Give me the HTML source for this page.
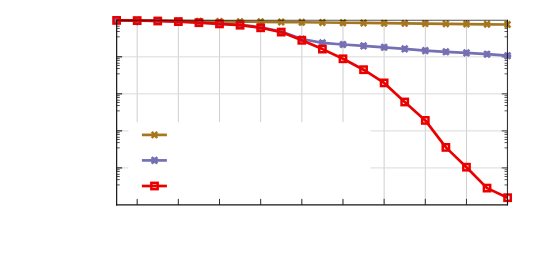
<!DOCTYPE html>
<html><head><meta charset="utf-8"><title>chart</title>
<style>html,body{margin:0;padding:0;background:#fff;font-family:"Liberation Sans",sans-serif;}body{width:545px;height:273px;overflow:hidden;}</style></head>
<body>
<svg width="545" height="273" viewBox="0 0 545 273" style="display:block">
<rect x="0" y="0" width="545" height="273" fill="#ffffff"/>
<line x1="137.18" y1="20.25" x2="137.18" y2="204.85" stroke="#cfcfcf" stroke-width="1"/>
<line x1="178.34" y1="20.25" x2="178.34" y2="204.85" stroke="#cfcfcf" stroke-width="1"/>
<line x1="219.50" y1="20.25" x2="219.50" y2="204.85" stroke="#cfcfcf" stroke-width="1"/>
<line x1="260.66" y1="20.25" x2="260.66" y2="204.85" stroke="#cfcfcf" stroke-width="1"/>
<line x1="301.82" y1="20.25" x2="301.82" y2="204.85" stroke="#cfcfcf" stroke-width="1"/>
<line x1="342.98" y1="20.25" x2="342.98" y2="204.85" stroke="#cfcfcf" stroke-width="1"/>
<line x1="384.14" y1="20.25" x2="384.14" y2="204.85" stroke="#cfcfcf" stroke-width="1"/>
<line x1="425.30" y1="20.25" x2="425.30" y2="204.85" stroke="#cfcfcf" stroke-width="1"/>
<line x1="466.46" y1="20.25" x2="466.46" y2="204.85" stroke="#cfcfcf" stroke-width="1"/>
<line x1="507.62" y1="20.25" x2="507.62" y2="204.85" stroke="#cfcfcf" stroke-width="1"/>
<line x1="116.65" y1="56.83" x2="507.42" y2="56.83" stroke="#dadada" stroke-width="1"/>
<line x1="116.65" y1="93.86" x2="507.42" y2="93.86" stroke="#dadada" stroke-width="1"/>
<line x1="116.65" y1="130.89" x2="507.42" y2="130.89" stroke="#dadada" stroke-width="1"/>
<line x1="116.65" y1="167.92" x2="507.42" y2="167.92" stroke="#dadada" stroke-width="1"/>
<rect x="128.5" y="122.2" width="242" height="77.6" fill="#ffffff"/>
<line x1="116.65" y1="21.60" x2="119.75" y2="21.60" stroke="#333" stroke-width="0.85"/>
<line x1="507.42" y1="21.60" x2="504.52000000000004" y2="21.60" stroke="#333" stroke-width="0.8"/>
<line x1="116.65" y1="23.40" x2="119.75" y2="23.40" stroke="#333" stroke-width="0.85"/>
<line x1="507.42" y1="23.40" x2="504.52000000000004" y2="23.40" stroke="#333" stroke-width="0.8"/>
<line x1="116.65" y1="26.20" x2="119.75" y2="26.20" stroke="#333" stroke-width="0.85"/>
<line x1="507.42" y1="26.20" x2="504.52000000000004" y2="26.20" stroke="#333" stroke-width="0.8"/>
<line x1="116.65" y1="28.40" x2="119.75" y2="28.40" stroke="#333" stroke-width="0.85"/>
<line x1="507.42" y1="28.40" x2="504.52000000000004" y2="28.40" stroke="#333" stroke-width="0.8"/>
<line x1="116.65" y1="31.50" x2="119.75" y2="31.50" stroke="#333" stroke-width="0.85"/>
<line x1="507.42" y1="31.50" x2="504.52000000000004" y2="31.50" stroke="#333" stroke-width="0.8"/>
<line x1="116.65" y1="36.80" x2="119.75" y2="36.80" stroke="#333" stroke-width="0.85"/>
<line x1="507.42" y1="36.80" x2="504.52000000000004" y2="36.80" stroke="#333" stroke-width="0.8"/>
<line x1="116.65" y1="56.83" x2="122.15" y2="56.83" stroke="#000" stroke-width="1"/>
<line x1="507.42" y1="56.83" x2="501.72" y2="56.83" stroke="#222" stroke-width="0.9"/>
<line x1="116.65" y1="58.63" x2="119.75" y2="58.63" stroke="#333" stroke-width="0.85"/>
<line x1="507.42" y1="58.63" x2="504.52000000000004" y2="58.63" stroke="#333" stroke-width="0.8"/>
<line x1="116.65" y1="60.43" x2="119.75" y2="60.43" stroke="#333" stroke-width="0.85"/>
<line x1="507.42" y1="60.43" x2="504.52000000000004" y2="60.43" stroke="#333" stroke-width="0.8"/>
<line x1="116.65" y1="63.23" x2="119.75" y2="63.23" stroke="#333" stroke-width="0.85"/>
<line x1="507.42" y1="63.23" x2="504.52000000000004" y2="63.23" stroke="#333" stroke-width="0.8"/>
<line x1="116.65" y1="65.43" x2="119.75" y2="65.43" stroke="#333" stroke-width="0.85"/>
<line x1="507.42" y1="65.43" x2="504.52000000000004" y2="65.43" stroke="#333" stroke-width="0.8"/>
<line x1="116.65" y1="68.53" x2="119.75" y2="68.53" stroke="#333" stroke-width="0.85"/>
<line x1="507.42" y1="68.53" x2="504.52000000000004" y2="68.53" stroke="#333" stroke-width="0.8"/>
<line x1="116.65" y1="73.83" x2="119.75" y2="73.83" stroke="#333" stroke-width="0.85"/>
<line x1="507.42" y1="73.83" x2="504.52000000000004" y2="73.83" stroke="#333" stroke-width="0.8"/>
<line x1="116.65" y1="93.86" x2="122.15" y2="93.86" stroke="#000" stroke-width="1"/>
<line x1="507.42" y1="93.86" x2="501.72" y2="93.86" stroke="#222" stroke-width="0.9"/>
<line x1="116.65" y1="95.66" x2="119.75" y2="95.66" stroke="#333" stroke-width="0.85"/>
<line x1="507.42" y1="95.66" x2="504.52000000000004" y2="95.66" stroke="#333" stroke-width="0.8"/>
<line x1="116.65" y1="97.46" x2="119.75" y2="97.46" stroke="#333" stroke-width="0.85"/>
<line x1="507.42" y1="97.46" x2="504.52000000000004" y2="97.46" stroke="#333" stroke-width="0.8"/>
<line x1="116.65" y1="100.26" x2="119.75" y2="100.26" stroke="#333" stroke-width="0.85"/>
<line x1="507.42" y1="100.26" x2="504.52000000000004" y2="100.26" stroke="#333" stroke-width="0.8"/>
<line x1="116.65" y1="102.46" x2="119.75" y2="102.46" stroke="#333" stroke-width="0.85"/>
<line x1="507.42" y1="102.46" x2="504.52000000000004" y2="102.46" stroke="#333" stroke-width="0.8"/>
<line x1="116.65" y1="105.56" x2="119.75" y2="105.56" stroke="#333" stroke-width="0.85"/>
<line x1="507.42" y1="105.56" x2="504.52000000000004" y2="105.56" stroke="#333" stroke-width="0.8"/>
<line x1="116.65" y1="110.86" x2="119.75" y2="110.86" stroke="#333" stroke-width="0.85"/>
<line x1="507.42" y1="110.86" x2="504.52000000000004" y2="110.86" stroke="#333" stroke-width="0.8"/>
<line x1="116.65" y1="130.89" x2="122.15" y2="130.89" stroke="#000" stroke-width="1"/>
<line x1="507.42" y1="130.89" x2="501.72" y2="130.89" stroke="#222" stroke-width="0.9"/>
<line x1="116.65" y1="132.69" x2="119.75" y2="132.69" stroke="#333" stroke-width="0.85"/>
<line x1="507.42" y1="132.69" x2="504.52000000000004" y2="132.69" stroke="#333" stroke-width="0.8"/>
<line x1="116.65" y1="134.49" x2="119.75" y2="134.49" stroke="#333" stroke-width="0.85"/>
<line x1="507.42" y1="134.49" x2="504.52000000000004" y2="134.49" stroke="#333" stroke-width="0.8"/>
<line x1="116.65" y1="137.29" x2="119.75" y2="137.29" stroke="#333" stroke-width="0.85"/>
<line x1="507.42" y1="137.29" x2="504.52000000000004" y2="137.29" stroke="#333" stroke-width="0.8"/>
<line x1="116.65" y1="139.49" x2="119.75" y2="139.49" stroke="#333" stroke-width="0.85"/>
<line x1="507.42" y1="139.49" x2="504.52000000000004" y2="139.49" stroke="#333" stroke-width="0.8"/>
<line x1="116.65" y1="142.59" x2="119.75" y2="142.59" stroke="#333" stroke-width="0.85"/>
<line x1="507.42" y1="142.59" x2="504.52000000000004" y2="142.59" stroke="#333" stroke-width="0.8"/>
<line x1="116.65" y1="147.89" x2="119.75" y2="147.89" stroke="#333" stroke-width="0.85"/>
<line x1="507.42" y1="147.89" x2="504.52000000000004" y2="147.89" stroke="#333" stroke-width="0.8"/>
<line x1="116.65" y1="167.92" x2="122.15" y2="167.92" stroke="#000" stroke-width="1"/>
<line x1="507.42" y1="167.92" x2="501.72" y2="167.92" stroke="#222" stroke-width="0.9"/>
<line x1="116.65" y1="169.72" x2="119.75" y2="169.72" stroke="#333" stroke-width="0.85"/>
<line x1="507.42" y1="169.72" x2="504.52000000000004" y2="169.72" stroke="#333" stroke-width="0.8"/>
<line x1="116.65" y1="171.52" x2="119.75" y2="171.52" stroke="#333" stroke-width="0.85"/>
<line x1="507.42" y1="171.52" x2="504.52000000000004" y2="171.52" stroke="#333" stroke-width="0.8"/>
<line x1="116.65" y1="174.32" x2="119.75" y2="174.32" stroke="#333" stroke-width="0.85"/>
<line x1="507.42" y1="174.32" x2="504.52000000000004" y2="174.32" stroke="#333" stroke-width="0.8"/>
<line x1="116.65" y1="176.52" x2="119.75" y2="176.52" stroke="#333" stroke-width="0.85"/>
<line x1="507.42" y1="176.52" x2="504.52000000000004" y2="176.52" stroke="#333" stroke-width="0.8"/>
<line x1="116.65" y1="179.62" x2="119.75" y2="179.62" stroke="#333" stroke-width="0.85"/>
<line x1="507.42" y1="179.62" x2="504.52000000000004" y2="179.62" stroke="#333" stroke-width="0.8"/>
<line x1="116.65" y1="184.92" x2="119.75" y2="184.92" stroke="#333" stroke-width="0.85"/>
<line x1="507.42" y1="184.92" x2="504.52000000000004" y2="184.92" stroke="#333" stroke-width="0.8"/>
<line x1="137.18" y1="204.85" x2="137.18" y2="198.85" stroke="#333" stroke-width="1"/>
<line x1="137.18" y1="20.25" x2="137.18" y2="25.65" stroke="#444" stroke-width="0.8"/>
<line x1="178.34" y1="204.85" x2="178.34" y2="198.85" stroke="#333" stroke-width="1"/>
<line x1="178.34" y1="20.25" x2="178.34" y2="25.65" stroke="#444" stroke-width="0.8"/>
<line x1="219.50" y1="204.85" x2="219.50" y2="198.85" stroke="#333" stroke-width="1"/>
<line x1="219.50" y1="20.25" x2="219.50" y2="25.65" stroke="#444" stroke-width="0.8"/>
<line x1="260.66" y1="204.85" x2="260.66" y2="198.85" stroke="#333" stroke-width="1"/>
<line x1="260.66" y1="20.25" x2="260.66" y2="25.65" stroke="#444" stroke-width="0.8"/>
<line x1="301.82" y1="204.85" x2="301.82" y2="198.85" stroke="#333" stroke-width="1"/>
<line x1="301.82" y1="20.25" x2="301.82" y2="25.65" stroke="#444" stroke-width="0.8"/>
<line x1="342.98" y1="204.85" x2="342.98" y2="198.85" stroke="#333" stroke-width="1"/>
<line x1="342.98" y1="20.25" x2="342.98" y2="25.65" stroke="#444" stroke-width="0.8"/>
<line x1="384.14" y1="204.85" x2="384.14" y2="198.85" stroke="#333" stroke-width="1"/>
<line x1="384.14" y1="20.25" x2="384.14" y2="25.65" stroke="#444" stroke-width="0.8"/>
<line x1="425.30" y1="204.85" x2="425.30" y2="198.85" stroke="#333" stroke-width="1"/>
<line x1="425.30" y1="20.25" x2="425.30" y2="25.65" stroke="#444" stroke-width="0.8"/>
<line x1="466.46" y1="204.85" x2="466.46" y2="198.85" stroke="#333" stroke-width="1"/>
<line x1="466.46" y1="20.25" x2="466.46" y2="25.65" stroke="#444" stroke-width="0.8"/>
<line x1="507.62" y1="204.85" x2="507.62" y2="198.85" stroke="#333" stroke-width="1"/>
<line x1="507.62" y1="20.25" x2="507.62" y2="25.65" stroke="#444" stroke-width="0.8"/>
<polyline points="116.60,20.25 137.18,20.48 157.76,20.70 178.34,20.93 198.92,21.15 219.50,21.38 240.08,21.60 260.66,21.82 281.24,22.05 301.82,22.27 322.40,22.50 342.98,22.73 363.56,22.95 384.14,23.18 404.72,23.40 425.30,23.62 445.88,23.85 466.46,24.07 487.04,24.30 507.62,24.52" fill="none" stroke="#A6761D" stroke-width="2.7" stroke-linejoin="round"/>
<path d="M113.90,17.15L119.30,23.35M113.90,23.35L119.30,17.15" stroke="#A6761D" stroke-width="2.6" fill="none"/>
<path d="M134.48,17.38L139.88,23.58M134.48,23.58L139.88,17.38" stroke="#A6761D" stroke-width="2.6" fill="none"/>
<path d="M155.06,17.60L160.46,23.80M155.06,23.80L160.46,17.60" stroke="#A6761D" stroke-width="2.6" fill="none"/>
<path d="M175.64,17.82L181.04,24.03M175.64,24.03L181.04,17.82" stroke="#A6761D" stroke-width="2.6" fill="none"/>
<path d="M196.22,18.05L201.62,24.25M196.22,24.25L201.62,18.05" stroke="#A6761D" stroke-width="2.6" fill="none"/>
<path d="M216.80,18.27L222.20,24.48M216.80,24.48L222.20,18.27" stroke="#A6761D" stroke-width="2.6" fill="none"/>
<path d="M237.38,18.50L242.78,24.70M237.38,24.70L242.78,18.50" stroke="#A6761D" stroke-width="2.6" fill="none"/>
<path d="M257.96,18.72L263.36,24.93M257.96,24.93L263.36,18.72" stroke="#A6761D" stroke-width="2.6" fill="none"/>
<path d="M278.54,18.95L283.94,25.15M278.54,25.15L283.94,18.95" stroke="#A6761D" stroke-width="2.6" fill="none"/>
<path d="M299.12,19.17L304.52,25.38M299.12,25.38L304.52,19.17" stroke="#A6761D" stroke-width="2.6" fill="none"/>
<path d="M319.70,19.40L325.10,25.60M319.70,25.60L325.10,19.40" stroke="#A6761D" stroke-width="2.6" fill="none"/>
<path d="M340.28,19.62L345.68,25.83M340.28,25.83L345.68,19.62" stroke="#A6761D" stroke-width="2.6" fill="none"/>
<path d="M360.86,19.85L366.26,26.05M360.86,26.05L366.26,19.85" stroke="#A6761D" stroke-width="2.6" fill="none"/>
<path d="M381.44,20.07L386.84,26.28M381.44,26.28L386.84,20.07" stroke="#A6761D" stroke-width="2.6" fill="none"/>
<path d="M402.02,20.30L407.42,26.50M402.02,26.50L407.42,20.30" stroke="#A6761D" stroke-width="2.6" fill="none"/>
<path d="M422.60,20.52L428.00,26.73M422.60,26.73L428.00,20.52" stroke="#A6761D" stroke-width="2.6" fill="none"/>
<path d="M443.18,20.75L448.58,26.95M443.18,26.95L448.58,20.75" stroke="#A6761D" stroke-width="2.6" fill="none"/>
<path d="M463.76,20.97L469.16,27.18M463.76,27.18L469.16,20.97" stroke="#A6761D" stroke-width="2.6" fill="none"/>
<path d="M484.34,21.20L489.74,27.40M484.34,27.40L489.74,21.20" stroke="#A6761D" stroke-width="2.6" fill="none"/>
<path d="M504.92,21.42L510.32,27.62M504.92,27.62L510.32,21.42" stroke="#A6761D" stroke-width="2.6" fill="none"/>
<polyline points="116.60,20.30 137.18,20.50 157.76,20.90 178.34,21.40 198.92,22.40 219.50,23.60 240.08,24.80 260.66,27.30 281.24,31.50 301.82,39.00 322.40,42.80 342.98,44.50 363.56,45.90 384.14,47.30 404.72,48.90 425.30,50.60 445.88,51.80 466.46,52.90 487.04,54.20 507.62,55.70" fill="none" stroke="#7570B3" stroke-width="2.7" stroke-linejoin="round"/>
<path d="M113.80,17.10L119.40,23.50M113.80,23.50L119.40,17.10" stroke="#7570B3" stroke-width="2.6" fill="none"/><path d="M113.00,20.30L120.20,20.30M116.60,17.40L116.60,23.20" stroke="#7570B3" stroke-width="2.4" fill="none"/>
<path d="M134.38,17.30L139.98,23.70M134.38,23.70L139.98,17.30" stroke="#7570B3" stroke-width="2.6" fill="none"/><path d="M133.58,20.50L140.78,20.50M137.18,17.60L137.18,23.40" stroke="#7570B3" stroke-width="2.4" fill="none"/>
<path d="M154.96,17.70L160.56,24.10M154.96,24.10L160.56,17.70" stroke="#7570B3" stroke-width="2.6" fill="none"/><path d="M154.16,20.90L161.36,20.90M157.76,18.00L157.76,23.80" stroke="#7570B3" stroke-width="2.4" fill="none"/>
<path d="M175.54,18.20L181.14,24.60M175.54,24.60L181.14,18.20" stroke="#7570B3" stroke-width="2.6" fill="none"/><path d="M174.74,21.40L181.94,21.40M178.34,18.50L178.34,24.30" stroke="#7570B3" stroke-width="2.4" fill="none"/>
<path d="M196.12,19.20L201.72,25.60M196.12,25.60L201.72,19.20" stroke="#7570B3" stroke-width="2.6" fill="none"/><path d="M195.32,22.40L202.52,22.40M198.92,19.50L198.92,25.30" stroke="#7570B3" stroke-width="2.4" fill="none"/>
<path d="M216.70,20.40L222.30,26.80M216.70,26.80L222.30,20.40" stroke="#7570B3" stroke-width="2.6" fill="none"/><path d="M215.90,23.60L223.10,23.60M219.50,20.70L219.50,26.50" stroke="#7570B3" stroke-width="2.4" fill="none"/>
<path d="M237.28,21.60L242.88,28.00M237.28,28.00L242.88,21.60" stroke="#7570B3" stroke-width="2.6" fill="none"/><path d="M236.48,24.80L243.68,24.80M240.08,21.90L240.08,27.70" stroke="#7570B3" stroke-width="2.4" fill="none"/>
<path d="M257.86,24.10L263.46,30.50M257.86,30.50L263.46,24.10" stroke="#7570B3" stroke-width="2.6" fill="none"/><path d="M257.06,27.30L264.26,27.30M260.66,24.40L260.66,30.20" stroke="#7570B3" stroke-width="2.4" fill="none"/>
<path d="M278.44,28.30L284.04,34.70M278.44,34.70L284.04,28.30" stroke="#7570B3" stroke-width="2.6" fill="none"/><path d="M277.64,31.50L284.84,31.50M281.24,28.60L281.24,34.40" stroke="#7570B3" stroke-width="2.4" fill="none"/>
<path d="M299.02,35.80L304.62,42.20M299.02,42.20L304.62,35.80" stroke="#7570B3" stroke-width="2.6" fill="none"/><path d="M298.22,39.00L305.42,39.00M301.82,36.10L301.82,41.90" stroke="#7570B3" stroke-width="2.4" fill="none"/>
<path d="M319.60,39.60L325.20,46.00M319.60,46.00L325.20,39.60" stroke="#7570B3" stroke-width="2.6" fill="none"/><path d="M318.80,42.80L326.00,42.80M322.40,39.90L322.40,45.70" stroke="#7570B3" stroke-width="2.4" fill="none"/>
<path d="M340.18,41.30L345.78,47.70M340.18,47.70L345.78,41.30" stroke="#7570B3" stroke-width="2.6" fill="none"/><path d="M339.38,44.50L346.58,44.50M342.98,41.60L342.98,47.40" stroke="#7570B3" stroke-width="2.4" fill="none"/>
<path d="M360.76,42.70L366.36,49.10M360.76,49.10L366.36,42.70" stroke="#7570B3" stroke-width="2.6" fill="none"/><path d="M359.96,45.90L367.16,45.90M363.56,43.00L363.56,48.80" stroke="#7570B3" stroke-width="2.4" fill="none"/>
<path d="M381.34,44.10L386.94,50.50M381.34,50.50L386.94,44.10" stroke="#7570B3" stroke-width="2.6" fill="none"/><path d="M380.54,47.30L387.74,47.30M384.14,44.40L384.14,50.20" stroke="#7570B3" stroke-width="2.4" fill="none"/>
<path d="M401.92,45.70L407.52,52.10M401.92,52.10L407.52,45.70" stroke="#7570B3" stroke-width="2.6" fill="none"/><path d="M401.12,48.90L408.32,48.90M404.72,46.00L404.72,51.80" stroke="#7570B3" stroke-width="2.4" fill="none"/>
<path d="M422.50,47.40L428.10,53.80M422.50,53.80L428.10,47.40" stroke="#7570B3" stroke-width="2.6" fill="none"/><path d="M421.70,50.60L428.90,50.60M425.30,47.70L425.30,53.50" stroke="#7570B3" stroke-width="2.4" fill="none"/>
<path d="M443.08,48.60L448.68,55.00M443.08,55.00L448.68,48.60" stroke="#7570B3" stroke-width="2.6" fill="none"/><path d="M442.28,51.80L449.48,51.80M445.88,48.90L445.88,54.70" stroke="#7570B3" stroke-width="2.4" fill="none"/>
<path d="M463.66,49.70L469.26,56.10M463.66,56.10L469.26,49.70" stroke="#7570B3" stroke-width="2.6" fill="none"/><path d="M462.86,52.90L470.06,52.90M466.46,50.00L466.46,55.80" stroke="#7570B3" stroke-width="2.4" fill="none"/>
<path d="M484.24,51.00L489.84,57.40M484.24,57.40L489.84,51.00" stroke="#7570B3" stroke-width="2.6" fill="none"/><path d="M483.44,54.20L490.64,54.20M487.04,51.30L487.04,57.10" stroke="#7570B3" stroke-width="2.4" fill="none"/>
<path d="M504.82,52.50L510.42,58.90M504.82,58.90L510.42,52.50" stroke="#7570B3" stroke-width="2.6" fill="none"/><path d="M504.02,55.70L511.22,55.70M507.62,52.80L507.62,58.60" stroke="#7570B3" stroke-width="2.4" fill="none"/>
<polyline points="116.60,20.40 137.18,20.60 157.76,21.00 178.34,21.60 198.92,22.70 219.50,23.90 240.08,25.20 260.66,27.80 281.24,32.10 301.82,40.30 322.40,49.10 342.98,58.80 363.56,69.70 384.14,82.90 404.72,102.00 425.30,120.40 445.88,147.40 466.46,167.20 487.04,188.10 507.62,197.70" fill="none" stroke="#EB0000" stroke-width="2.7" stroke-linejoin="round"/>
<rect x="113.45" y="17.25" width="6.3" height="6.3" fill="none" stroke="#EB0000" stroke-width="2.5"/>
<rect x="134.03" y="17.45" width="6.3" height="6.3" fill="none" stroke="#EB0000" stroke-width="2.5"/>
<rect x="154.61" y="17.85" width="6.3" height="6.3" fill="none" stroke="#EB0000" stroke-width="2.5"/>
<rect x="175.19" y="18.45" width="6.3" height="6.3" fill="none" stroke="#EB0000" stroke-width="2.5"/>
<rect x="195.77" y="19.55" width="6.3" height="6.3" fill="none" stroke="#EB0000" stroke-width="2.5"/>
<rect x="216.35" y="20.75" width="6.3" height="6.3" fill="none" stroke="#EB0000" stroke-width="2.5"/>
<rect x="236.93" y="22.05" width="6.3" height="6.3" fill="none" stroke="#EB0000" stroke-width="2.5"/>
<rect x="257.51" y="24.65" width="6.3" height="6.3" fill="none" stroke="#EB0000" stroke-width="2.5"/>
<rect x="278.09" y="28.95" width="6.3" height="6.3" fill="none" stroke="#EB0000" stroke-width="2.5"/>
<rect x="298.67" y="37.15" width="6.3" height="6.3" fill="none" stroke="#EB0000" stroke-width="2.5"/>
<rect x="319.25" y="45.95" width="6.3" height="6.3" fill="none" stroke="#EB0000" stroke-width="2.5"/>
<rect x="339.83" y="55.65" width="6.3" height="6.3" fill="none" stroke="#EB0000" stroke-width="2.5"/>
<rect x="360.41" y="66.55" width="6.3" height="6.3" fill="none" stroke="#EB0000" stroke-width="2.5"/>
<rect x="380.99" y="79.75" width="6.3" height="6.3" fill="none" stroke="#EB0000" stroke-width="2.5"/>
<rect x="401.57" y="98.85" width="6.3" height="6.3" fill="none" stroke="#EB0000" stroke-width="2.5"/>
<rect x="422.15" y="117.25" width="6.3" height="6.3" fill="none" stroke="#EB0000" stroke-width="2.5"/>
<rect x="442.73" y="144.25" width="6.3" height="6.3" fill="none" stroke="#EB0000" stroke-width="2.5"/>
<rect x="463.31" y="164.05" width="6.3" height="6.3" fill="none" stroke="#EB0000" stroke-width="2.5"/>
<rect x="483.89" y="184.95" width="6.3" height="6.3" fill="none" stroke="#EB0000" stroke-width="2.5"/>
<rect x="504.47" y="194.55" width="6.3" height="6.3" fill="none" stroke="#EB0000" stroke-width="2.5"/>
<line x1="116.65" y1="20.25" x2="507.87" y2="20.25" stroke="#000" stroke-opacity="0.68" stroke-width="1.05"/>
<line x1="507.42" y1="19.75" x2="507.42" y2="205.35" stroke="#000" stroke-opacity="0.88" stroke-width="0.95"/>
<line x1="116.65" y1="19.75" x2="116.65" y2="205.4" stroke="#141414" stroke-width="1.2"/>
<line x1="116.05000000000001" y1="204.85" x2="507.92" y2="204.85" stroke="#141414" stroke-width="1.1"/>
<line x1="141.9" y1="134.9" x2="166.9" y2="134.9" stroke="#A6761D" stroke-width="2.7"/>
<path d="M151.80,131.80L157.20,138.00M151.80,138.00L157.20,131.80" stroke="#A6761D" stroke-width="2.6" fill="none"/>
<line x1="141.9" y1="160.4" x2="166.9" y2="160.4" stroke="#7570B3" stroke-width="2.7"/>
<path d="M151.70,157.20L157.30,163.60M151.70,163.60L157.30,157.20" stroke="#7570B3" stroke-width="2.6" fill="none"/><path d="M150.90,160.40L158.10,160.40M154.50,157.50L154.50,163.30" stroke="#7570B3" stroke-width="2.4" fill="none"/>
<line x1="141.9" y1="186.0" x2="166.9" y2="186.0" stroke="#EB0000" stroke-width="2.7"/>
<rect x="151.35" y="182.85" width="6.3" height="6.3" fill="none" stroke="#EB0000" stroke-width="2.5"/>
</svg>
</body></html>
